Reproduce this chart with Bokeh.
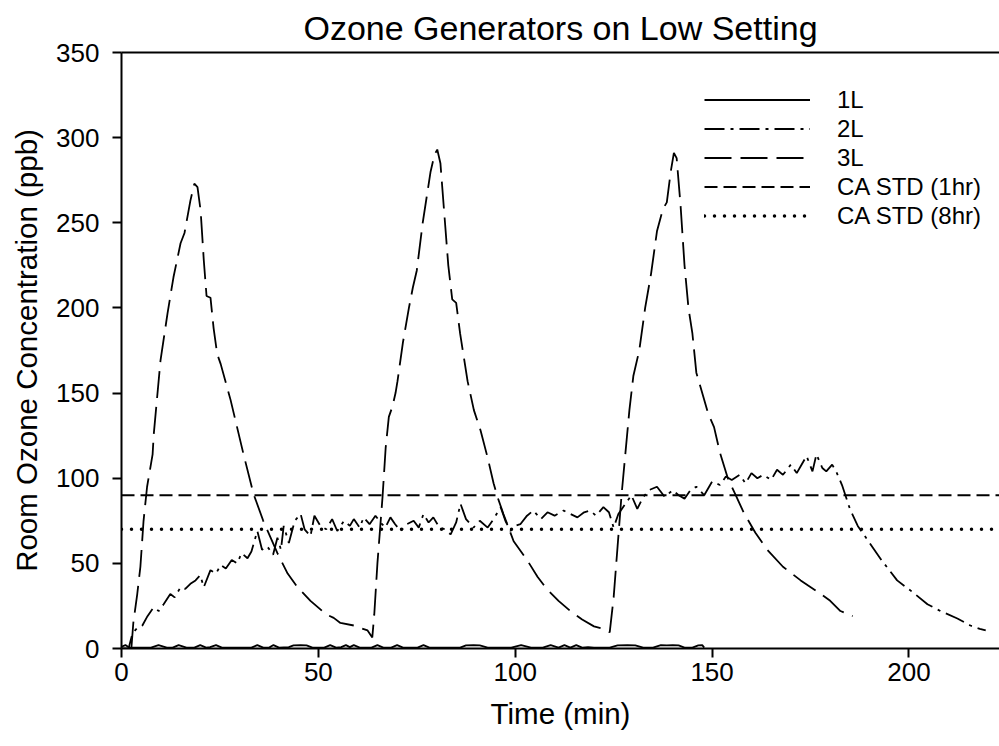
from bokeh.plotting import figure
from bokeh.models import Legend, LegendItem, LinearAxis, FixedTicker, Range1d
from bokeh.embed import file_html
from bokeh.resources import INLINE

# ---------------- data ----------------
title_text = "Ozone Generators on Low Setting"
x_label = "Time (min)"
y_label = "Room Ozone Concentration (ppb)"
x_ticks = [0, 50, 100, 150, 200]
y_ticks = [0, 50, 100, 150, 200, 250, 300, 350]

t_1L = [0, 1, 2, 7.5, 9.4, 11.5, 13, 14.5, 16.5, 18.5, 20, 21.5, 22.5, 24, 25.5,
        33, 34.5, 36, 37.5, 38.6, 40, 42.5, 43.7, 45.5, 47, 48.5, 51.5, 53, 54.5, 55.8,
        57, 58, 59, 60.5, 63.5, 65, 66.5, 68.5, 70, 71.5, 75.2, 76.7, 78.2, 86, 87.5,
        89.4, 91, 93, 99, 101.5, 104, 107, 109, 111, 112.5, 114, 115.5, 117, 118.5, 120,
        124, 126, 128.5, 130.5, 132.5, 135, 137, 138.5, 140, 141.5, 143, 145, 146.5, 147.5, 148]
c_1L = [1, 2, 0.5, 0.5, 2, 0.5, 0.5, 2, 0.5, 0.5, 2, 0.5, 0.8, 2, 0.5,
        0.5, 2, 0.5, 0.5, 2, 0.5, 0.8, 1.8, 2, 1.8, 0.5, 0.5, 2, 0.5, 0.8,
        2, 0.8, 2, 0.5, 0.5, 2, 0.5, 0.5, 2, 0.5, 0.5, 2, 0.5, 0.5, 1.8,
        2, 1.8, 0.5, 0.5, 2, 0.5, 0.5, 2, 0.5, 2, 0.5, 2, 0.5, 0.8, 0.5,
        0.5, 1.8, 2, 1.8, 0.5, 0.5, 2, 1.8, 2, 1.8, 0.5, 0.5, 1.8, 2, 0.5]

t_2L = [0, 1.8, 2.8, 4, 5.3, 6.6, 8.1, 9.5, 10.7, 12.4, 13.5, 15, 16.2, 17.5, 18.8,
        20, 20.9, 22.6, 24, 25.2, 26.5, 28, 29.4, 30.5, 32, 33, 34.5, 35.7, 37, 38.5,
        39.6, 40.5, 41.2, 42.5, 44, 45.5, 46.5, 48, 49, 50.5, 52, 53.5, 54.8, 56.5, 58,
        59, 60.5, 61.5, 63, 64.5, 65.8, 67, 68.3, 69.5, 70.9, 72.5, 74.2, 75.5, 76.7, 78,
        79.2, 80.5, 82, 83.6, 85, 86.1, 87.5, 89.4, 91, 93, 94.5, 96.3, 97.5, 98.8, 100,
        101.3, 103, 104.6, 106.5, 108.2, 110, 112.3, 114, 115.8, 117.5, 119.1, 120.5, 122.4, 123.8, 125,
        126.2, 128, 129.5, 131, 132.5, 134, 136, 138, 140, 141.5, 143, 144.5, 146, 148, 150,
        152, 153.5, 155, 157, 158.5, 160, 161.5, 163, 165, 166.5, 168, 170, 171.5, 172.5, 174,
        175.5, 176.5, 178, 179, 180.5, 181.5, 183, 185, 187, 190, 193, 195, 197, 201, 204.7,
        208, 212.3, 215.6, 218, 219.5]
c_2L = [0, 0, 9, 12, 13.5, 19, 24, 22, 26, 32, 30, 36, 35, 38, 40,
        43, 36, 46, 44, 49, 47, 52, 50, 56, 53, 57, 69, 58, 60, 55,
        65, 58, 72, 62, 75, 79, 70, 66, 78, 72, 70, 76, 69, 75, 72,
        76, 71, 77, 73, 78, 74, 71, 77, 73, 69, 73, 75, 71, 79, 74,
        77, 72, 70, 67, 74, 85, 76, 71, 75, 71, 76, 83, 75, 69, 72,
        73, 78, 81, 76, 80, 78, 81, 79, 77, 80, 81, 78, 83, 80, 71,
        79, 85, 90, 82, 89, 93, 95, 89, 93, 90, 88, 93, 95, 90, 98,
        96, 101, 99, 102, 97, 103, 100, 102, 99, 105, 102, 108, 103, 107, 113,
        104, 114, 106, 104, 108, 104, 96, 82, 72, 62, 52, 46, 40, 33, 26,
        22, 17.6, 13.5, 11.5, 10.6]

t_3L = [2.5, 3, 4, 4.8, 5.6, 6.5, 7.9, 8.2, 9.9, 11.7, 13.2, 15, 16, 17.5, 18.5,
        19.3, 20.1, 20.9, 21.6, 22.6, 23.4, 24.3, 25.2, 27.7, 31, 33.5, 36, 39.6, 42.2, 44.7,
        48, 52, 53.9, 55.6, 59, 62.5, 63.7,
        64.2, 65, 66.3, 67.1, 67.9, 68.8, 69.6, 70.1, 71.5, 73, 74, 75, 76.5, 77.5, 78.5,
        79.5, 80.2, 81, 82, 83, 84, 85, 86, 87.9, 89.5, 91.2, 93, 94.5, 95.5, 97,
        99.6, 103, 105.7, 108, 111, 114, 117, 120, 122.5, 124,
        125, 126, 127, 128, 129, 130, 131.5, 133, 134.5, 136, 137.5, 138.5, 139.5, 140.3, 141,
        142, 143, 144, 145, 146, 147.5, 149, 150.5, 152, 154, 156, 158, 161, 164, 168,
        172.5, 177, 180, 182.6, 185.7]
c_3L = [0, 15, 32, 48, 75, 95, 114, 126, 169, 197, 218, 238, 244, 263, 273,
        271, 257, 228, 207, 206, 188, 173, 167, 146, 114, 91, 75, 56, 44, 36,
        28, 20, 18, 15, 13.5, 10.6, 6.5,
        20, 50, 89, 118, 136, 142, 150, 157, 180, 200, 212, 222, 250, 265, 280,
        290, 293, 285, 255, 225, 205, 203, 185, 157, 140, 128, 112, 97, 89, 79,
        63, 52, 42, 35, 28, 22, 17, 13, 11.5, 9.5,
        30, 60, 90, 115, 140, 160, 175, 200, 220, 245, 258, 262, 280, 291, 288,
        260, 225, 200, 185, 162, 150, 138, 130, 115, 100, 90, 80, 68, 58, 48,
        40, 33, 28, 22, 19]

ca_std_1hr = 90
ca_std_8hr = 70
x_end = 223
y_end = 350

# ---------------- figure ----------------
FONT = "Liberation Sans"

p = figure(width=999, height=740, output_backend="svg", toolbar_location=None,
           x_range=Range1d(0, x_end), y_range=Range1d(0, y_end),
           min_border_left=121, min_border_right=0, min_border_top=52,
           min_border_bottom=92)
p.background_fill_color = "white"
p.border_fill_color = "white"
p.outline_line_color = None
p.xgrid.visible = False
p.ygrid.visible = False

p.title.text = title_text
p.title.align = "center"
p.title.text_font = FONT
p.title.text_font_size = "34px"
p.title.text_font_style = "normal"
p.title.text_color = "black"
p.title.standoff = 12

for ax in (p.xaxis[0], p.yaxis[0]):
    ax.axis_line_width = 2
    ax.axis_line_color = "black"
    ax.major_tick_line_width = 2
    ax.major_tick_line_color = "black"
    ax.major_tick_in = 0
    ax.major_tick_out = 9
    ax.minor_tick_line_color = None
    ax.major_label_text_font = FONT
    ax.major_label_text_font_size = "26px"
    ax.major_label_text_color = "black"
    ax.axis_label_text_font = FONT
    ax.axis_label_text_font_size = "29.5px"
    ax.axis_label_text_font_style = "normal"
    ax.axis_label_text_color = "black"

p.xaxis.ticker = FixedTicker(ticks=x_ticks)
p.yaxis.ticker = FixedTicker(ticks=y_ticks)
p.xaxis.axis_label = x_label
p.yaxis.axis_label = y_label
p.xaxis.major_label_standoff = 5
p.yaxis.major_label_standoff = 13
p.xaxis.axis_label_standoff = 13
p.yaxis.axis_label_standoff = 10

top = LinearAxis(ticker=FixedTicker(ticks=[]), major_label_text_font_size="0px",
                 major_tick_line_color=None, minor_tick_line_color=None,
                 axis_line_width=2, axis_line_color="black")
p.add_layout(top, "above")

r1 = p.line(t_1L, c_1L, line_color="black", line_width=1.8)
r2 = p.line(t_2L, c_2L, line_color="black", line_width=1.8, line_dash="20 6 3 6")
r3 = p.line(t_3L, c_3L, line_color="black", line_width=1.8, line_dash="27 9")
r4 = p.line([0, x_end], [ca_std_1hr, ca_std_1hr], line_color="black", line_width=1.8,
            line_dash="13 6")
r5 = p.line([0, x_end], [ca_std_8hr, ca_std_8hr], line_color="black", line_width=3.5,
            line_dash="0 10", line_cap="round")

legend = Legend(items=[
    LegendItem(label="1L", renderers=[r1]),
    LegendItem(label="2L", renderers=[r2]),
    LegendItem(label="3L", renderers=[r3]),
    LegendItem(label="CA STD (1hr)", renderers=[r4]),
    LegendItem(label="CA STD (8hr)", renderers=[r5]),
], location=(583, 418), glyph_width=106, glyph_height=29, label_height=29,
    spacing=0, padding=0, margin=0, border_line_color=None,
    background_fill_alpha=0, label_standoff=27,
    label_text_font=FONT, label_text_font_size="24px", label_text_color="black")
p.add_layout(legend)

open("out.html", "w").write(file_html(p, INLINE))
